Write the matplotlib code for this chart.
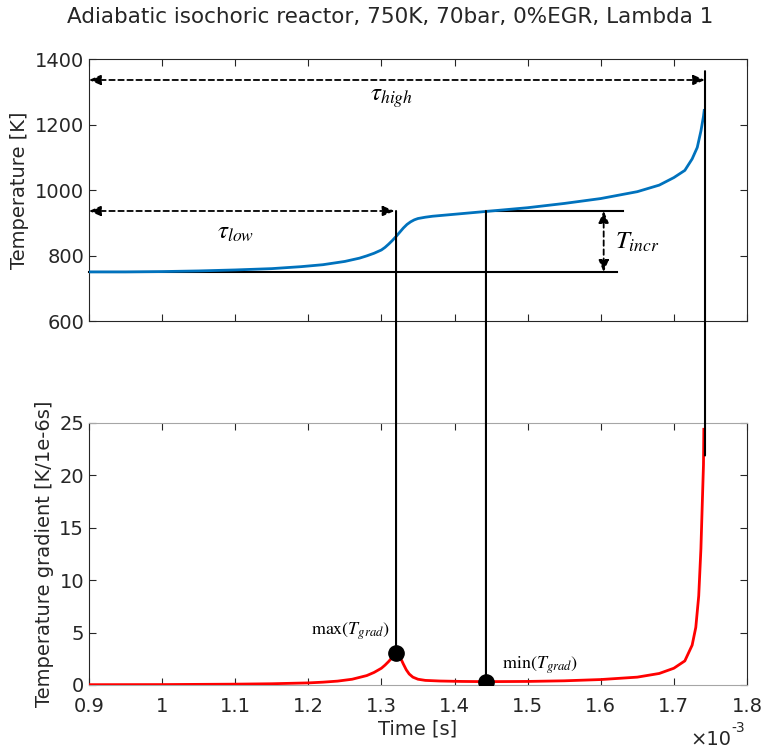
# coding: utf-8
# Temperature trace and temperature gradient of an adiabatic isochoric reactor
import numpy as np
import matplotlib.pyplot as plt
from matplotlib.patches import ConnectionPatch

# Temperature trace [s*1e3, K]
time_T = [0.90, 0.95, 1.00, 1.05, 1.10, 1.15, 1.19, 1.22, 1.25, 1.27, 1.28,
          1.29, 1.30, 1.305, 1.31, 1.315, 1.32, 1.325, 1.33, 1.335, 1.34,
          1.345, 1.35, 1.36, 1.37, 1.40, 1.44, 1.50, 1.55, 1.60, 1.65, 1.68,
          1.70, 1.715, 1.725, 1.732, 1.737, 1.7405, 1.7415]
temp_K = [750, 750, 751, 753, 756, 760, 766, 772, 782, 792, 799,
          807, 817, 825, 835, 846, 858, 871, 884, 895, 903,
          909, 913, 917, 920, 926, 934, 946, 959, 974, 995, 1015,
          1038, 1060, 1095, 1130, 1180, 1225, 1243]

# Temperature gradient [s*1e3, K/1e-6s]
time_grad = [0.90, 1.00, 1.10, 1.15, 1.20, 1.22, 1.24, 1.26, 1.28, 1.29,
             1.30, 1.305, 1.31, 1.315, 1.32, 1.323, 1.326, 1.33, 1.334,
             1.338, 1.343, 1.35, 1.36, 1.38, 1.41, 1.443, 1.50, 1.55, 1.60,
             1.65, 1.68, 1.70, 1.715, 1.725, 1.73, 1.734, 1.737, 1.739,
             1.7405, 1.741]
grad = [0.03, 0.04, 0.08, 0.12, 0.20, 0.27, 0.37, 0.55, 0.90, 1.20,
        1.60, 1.90, 2.25, 2.65, 3.08, 2.95, 2.60, 2.00, 1.45,
        1.05, 0.75, 0.55, 0.44, 0.38, 0.34, 0.32, 0.34, 0.40, 0.52,
        0.75, 1.10, 1.60, 2.30, 3.80, 5.50, 8.50, 13.0, 17.6,
        21.0, 24.4]

# Characteristic quantities
T_init = 750
T_plateau = 936
t_high = 1.7426
T_high_line = 1363
grad_high_line = 21.9

x_ticks = [0.9, 1.0, 1.1, 1.2, 1.3, 1.4, 1.5, 1.6, 1.7, 1.8]
x_tick_labels = ['0.9', '1', '1.1', '1.2', '1.3', '1.4', '1.5', '1.6', '1.7', '1.8']

plt.rcParams['font.family'] = ['DejaVu Sans']
plt.rcParams['mathtext.fontset'] = 'stix'

axis_col = '#262626'
fs = 14

fig = plt.figure(figsize=(7.63, 7.52), dpi=100)
ax1 = fig.add_axes([0.1166, 0.5731, 0.8624, 0.3484])
ax2 = fig.add_axes([0.1166, 0.0891, 0.8624, 0.3484])


def style_axes(ax):
    ax.set_xlim(0.9, 1.8)
    ax.set_xticks(x_ticks)
    ax.tick_params(direction='in', top=True, right=True, length=5,
                   width=0.8, colors=axis_col, labelsize=fs)
    for side in ax.spines.values():
        side.set_color(axis_col)
        side.set_linewidth(0.8)


# Top panel: temperature
style_axes(ax1)
ax1.set_ylim(600, 1400)
ax1.set_yticks([600, 800, 1000, 1200, 1400])
ax1.set_xticklabels([])
ax1.plot(time_T, temp_K, color='#0072BD', lw=2.0, zorder=3)
ax1.set_ylabel('Temperature [K]', fontsize=fs, color=axis_col)

ax1.plot([0.9, 1.622], [T_init, T_init], color='k', lw=1.5, clip_on=False)
ax1.plot([1.443, 1.63], [T_plateau, T_plateau], color='k', lw=1.5)

arrow_kw = dict(arrowstyle='<|-|>,head_length=0.7,head_width=0.3',
                color='k', lw=1.3, ls=(0, (3, 2)), shrinkA=0, shrinkB=0)
ax1.annotate('', xy=(t_high, 1336), xytext=(0.9, 1336), arrowprops=arrow_kw)
ax1.annotate('', xy=(1.318, T_plateau), xytext=(0.9, T_plateau), arrowprops=arrow_kw)
ax1.annotate('', xy=(1.604, T_init), xytext=(1.604, T_plateau), arrowprops=arrow_kw)

ax1.text(1.314, 1281, r'$\tau_{high}$', fontsize=18, ha='center', va='center')
ax1.text(1.101, 872, r'$\tau_{low}$', fontsize=18, ha='center', va='center')
ax1.text(1.65, 841, r'$T_{incr}$', fontsize=18, ha='center', va='center')

fig.text(0.511, 0.977, 'Adiabatic isochoric reactor, 750K, 70bar, 0%EGR, Lambda 1',
         fontsize=15.5, color='#262626', ha='center', va='center')

# Bottom panel: temperature gradient
style_axes(ax2)
ax2.tick_params(axis='x', pad=9)
ax2.set_ylim(0, 25)
ax2.set_yticks([0, 5, 10, 15, 20, 25])
ax2.set_xticklabels(x_tick_labels)
ax2.spines['top'].set_color('#a6a6a6')
ax2.spines['bottom'].set_color('#a6a6a6')
ax2.plot(time_grad, grad, color='red', lw=2.0, zorder=3)
ax2.set_ylabel('Temperature gradient [K/1e-6s]', fontsize=fs, color=axis_col)
ax2.set_xlabel('Time [s]', fontsize=fs, color=axis_col, labelpad=2)

# Local maximum of the first stage and the minimum between the two stages
i_max = time_grad.index(1.32)
i_min = time_grad.index(1.443)
ax2.plot(time_grad[i_max], grad[i_max], 'o', color='k', ms=11, zorder=5)
ax2.plot(time_grad[i_min], grad[i_min], 'o', color='k', ms=11, zorder=5)
ax2.text(1.3117, 5.15, r'$\mathrm{max}(T_{grad})$', fontsize=13,
         ha='right', va='center')
ax2.text(1.465, 1.9, r'$\mathrm{min}(T_{grad})$', fontsize=13,
         ha='left', va='center')

fig.text(0.905, 0.004, '×10', fontsize=fs, color=axis_col, ha='left', va='bottom')
fig.text(0.959, 0.022, '-3', fontsize=10, color=axis_col, ha='left', va='bottom')

# Vertical lines running across both panels
links = [((time_grad[i_max], T_plateau), (time_grad[i_max], grad[i_max])),
         ((time_grad[i_min], T_plateau), (time_grad[i_min], grad[i_min])),
         ((t_high, T_high_line), (t_high, grad_high_line))]
for top_pt, bot_pt in links:
    con = ConnectionPatch(xyA=top_pt, coordsA='data', axesA=ax1,
                          xyB=bot_pt, coordsB='data', axesB=ax2,
                          color='k', lw=1.5, zorder=4)
    fig.add_artist(con)

fig.savefig('out.png', dpi=100)
